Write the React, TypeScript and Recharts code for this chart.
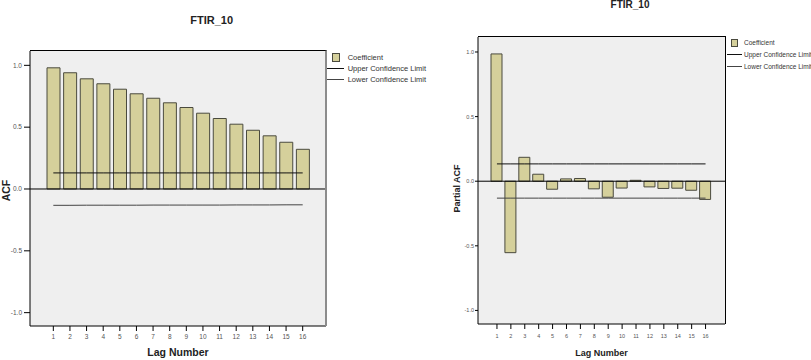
import { ComposedChart, Bar, Line, XAxis, YAxis, CartesianGrid, ReferenceLine, Legend, Label } from 'recharts';

// lag numbers on the x axis
const lags = ['1', '2', '3', '4', '5', '6', '7', '8', '9', '10', '11', '12', '13', '14', '15', '16'];

// ACF panel
const acfCoefficient = [0.98, 0.94, 0.891, 0.851, 0.807, 0.77, 0.734, 0.697, 0.659, 0.613, 0.57, 0.524, 0.475, 0.43, 0.378, 0.321];
const acfUpper = [0.13, 0.13, 0.13, 0.13, 0.13, 0.13, 0.13, 0.13, 0.13, 0.13, 0.13, 0.13, 0.13, 0.13, 0.13, 0.13];
const acfLower = [-0.132, -0.132, -0.131, -0.131, -0.131, -0.131, -0.13, -0.13, -0.13, -0.13, -0.13, -0.129, -0.129, -0.129, -0.128, -0.128];

// PACF panel
const pacfCoefficient = [0.985, -0.553, 0.185, 0.054, -0.062, 0.018, 0.021, -0.059, -0.124, -0.053, 0.007, -0.044, -0.056, -0.054, -0.07, -0.141];
const pacfUpper = [0.134, 0.134, 0.134, 0.134, 0.134, 0.134, 0.134, 0.134, 0.134, 0.134, 0.134, 0.134, 0.134, 0.134, 0.134, 0.134];
const pacfLower = [-0.131, -0.131, -0.131, -0.131, -0.131, -0.131, -0.131, -0.131, -0.131, -0.131, -0.131, -0.131, -0.131, -0.131, -0.131, -0.131];

const yTicks = [-1, -0.5, 0, 0.5, 1];
const legendNames = ['Coefficient', 'Upper Confidence Limit', 'Lower Confidence Limit'];

const acfData = lags.map((lag, i) => ({ lag, coef: acfCoefficient[i], upper: acfUpper[i], lower: acfLower[i] }));
const pacfData = lags.map((lag, i) => ({ lag, coef: pacfCoefficient[i], upper: pacfUpper[i], lower: pacfLower[i] }));

const BAR_FILL = '#d5d09b';
const BAR_STROKE = '#4a4a3e';
const FONT = '"Liberation Sans", Arial, sans-serif';

type LegendCfg = {
  left: number; top: number; rowH: number; fontSize: number;
  swatchLeft: number; swatchW: number; swatchH: number;
  lineLeft: number; lineW: number; textLeft: number;
};

const makeLegend = (cfg: LegendCfg) => (props: any) => {
  const items = [...(props.payload || [])].sort(
    (a: any, b: any) => legendNames.indexOf(a.value) - legendNames.indexOf(b.value)
  );
  return (
    <div style={{ whiteSpace: 'nowrap' }}>
      {items.map((it: any) => (
        <div key={it.value} style={{ position: 'relative', height: cfg.rowH }}>
          {it.type === 'rect' ? (
            <div style={{
              position: 'absolute', left: cfg.swatchLeft, top: (cfg.rowH - cfg.swatchH) / 2,
              width: cfg.swatchW, height: cfg.swatchH, boxSizing: 'border-box',
              background: BAR_FILL, border: `1px solid ${BAR_STROKE}`,
            }} />
          ) : (
            <div style={{
              position: 'absolute', left: cfg.lineLeft, top: Math.floor(cfg.rowH / 2),
              width: cfg.lineW, height: 1, background: it.color,
            }} />
          )}
          <span style={{
            position: 'absolute', left: cfg.textLeft, top: 0, lineHeight: `${cfg.rowH}px`,
            fontSize: cfg.fontSize, color: '#333',
          }}>{it.value}</span>
        </div>
      ))}
    </div>
  );
};

type PanelProps = {
  x: number; width: number; data: any[]; top: number; right: number;
  yAxisWidth: number; xAxisHeight: number; padL: number; padR: number; barSize: number;
  domain: [number, number]; tickFont: number; labelFont: number;
  yTickSize: number; yTickMargin: number; xTickMargin: number;
  yLabel: string; yLabelDx: number; yLabelDy: number;
  title: string; titleFont: number; titleCx: number; titleCy: number;
  rightBorder: string;
  legend: LegendCfg;
};

const Panel = (p: PanelProps) => (
  <div style={{ position: 'absolute', left: p.x, top: 0, width: p.width, height: 360 }}>
    <div style={{
      position: 'absolute', left: p.titleCx - 60, width: 120, top: p.titleCy - p.titleFont / 2,
      lineHeight: `${p.titleFont}px`, fontSize: p.titleFont, fontWeight: 'bold', textAlign: 'center', color: '#222',
    }}>{p.title}</div>
    <ComposedChart width={p.width} height={360} data={p.data} margin={{ top: p.top, right: p.right, bottom: 0, left: 0 }}>
      <CartesianGrid horizontal={false} vertical={false} fill="#efefef" />
      <XAxis
        dataKey="lag" height={p.xAxisHeight} interval={0} padding={{ left: p.padL, right: p.padR }}
        tickSize={5} tickMargin={p.xTickMargin}
        tick={{ fontSize: p.tickFont, fill: '#555' }} tickLine={{ stroke: '#000' }} axisLine={{ stroke: '#000' }}
      >
        <Label value="Lag Number" position="insideBottom" offset={4}
          style={{ fontSize: p.labelFont, fontWeight: 'bold', fill: '#222' }} />
      </XAxis>
      <YAxis
        width={p.yAxisWidth} domain={p.domain} ticks={yTicks} allowDataOverflow type="number"
        tickFormatter={(v: number) => v.toFixed(1)} tickSize={p.yTickSize} tickMargin={p.yTickMargin}
        tick={{ fontSize: p.tickFont, fill: '#555' }} tickLine={{ stroke: '#000' }} axisLine={{ stroke: '#000' }}
      >
        <Label value={p.yLabel} position="center" angle={-90} dx={p.yLabelDx} dy={p.yLabelDy}
          style={{ fontSize: p.labelFont, fontWeight: 'bold', fill: '#222' }} />
      </YAxis>
      <Bar dataKey="coef" name="Coefficient" barSize={p.barSize} fill={BAR_FILL} stroke={BAR_STROKE}
        strokeWidth={1} isAnimationActive={false} legendType="rect" />
      <ReferenceLine y={0} stroke="#000" strokeWidth={1} />
      <Line dataKey="upper" name="Upper Confidence Limit" type="linear" stroke="#111" strokeWidth={1}
        dot={false} activeDot={false} isAnimationActive={false} legendType="line" />
      <Line dataKey="lower" name="Lower Confidence Limit" type="linear" stroke="#444" strokeWidth={1}
        dot={false} activeDot={false} isAnimationActive={false} legendType="line" />
      <Legend
        layout="horizontal" verticalAlign="middle" align="center"
        content={makeLegend(p.legend)}
        wrapperStyle={{ position: 'absolute', left: p.legend.left, top: p.legend.top, width: 'auto', margin: 0 }}
      />
    </ComposedChart>
    {/* top and right edges of the plot box, same box as the chart margins */}
    <div style={{
      position: 'absolute', pointerEvents: 'none', boxSizing: 'border-box', zIndex: 5,
      left: p.yAxisWidth, top: p.top - 1,
      width: p.width - p.yAxisWidth - p.right + 1, height: 360 - p.top - p.xAxisHeight + 1,
      borderTop: '1px solid #000', borderRight: p.rightBorder,
    }} />
  </div>
);

export default function App() {
  return (
    <div style={{
      position: 'absolute', left: 0, top: 0, width: 811, height: 360, overflow: 'hidden',
      background: '#fff', fontFamily: FONT,
    }}>
      <Panel
        x={0} width={440} data={acfData} top={51} right={114}
        yAxisWidth={30} xAxisHeight={34} padL={15} padR={15} barSize={13}
        domain={[-1.108, 1.116]} tickFont={6.5} labelFont={10.5}
        yTickSize={6} yTickMargin={2} xTickMargin={3.5}
        yLabel="ACF" yLabelDx={-9} yLabelDy={2}
        title="FTIR_10" titleFont={11} titleCx={211.7} titleCy={20.7}
        rightBorder="2px solid #8c8c8c"
        legend={{ left: 326, top: 52.1, rowH: 11.2, fontSize: 7.5, swatchLeft: 5.7, swatchW: 8.5, swatchH: 9, lineLeft: 1, lineW: 17, textLeft: 21.7 }}
      />
      <Panel
        x={440} width={371} data={pacfData} top={37} right={86}
        yAxisWidth={38} xAxisHeight={36} padL={12} padR={12.5} barSize={11}
        domain={[-1.105, 1.116]} tickFont={5.5} labelFont={9}
        yTickSize={3} yTickMargin={1} xTickMargin={5}
        yLabel="Partial ACF" yLabelDx={-2.5} yLabelDy={8}
        title="FTIR_10" titleFont={10} titleCx={190} titleCy={5}
        rightBorder="1px solid #000"
        legend={{ left: 285.3, top: 37.4, rowH: 11.8, fontSize: 6.5, swatchLeft: 5.4, swatchW: 7, swatchH: 8, lineLeft: 1.7, lineW: 14.7, textLeft: 18.7 }}
      />
    </div>
  );
}
